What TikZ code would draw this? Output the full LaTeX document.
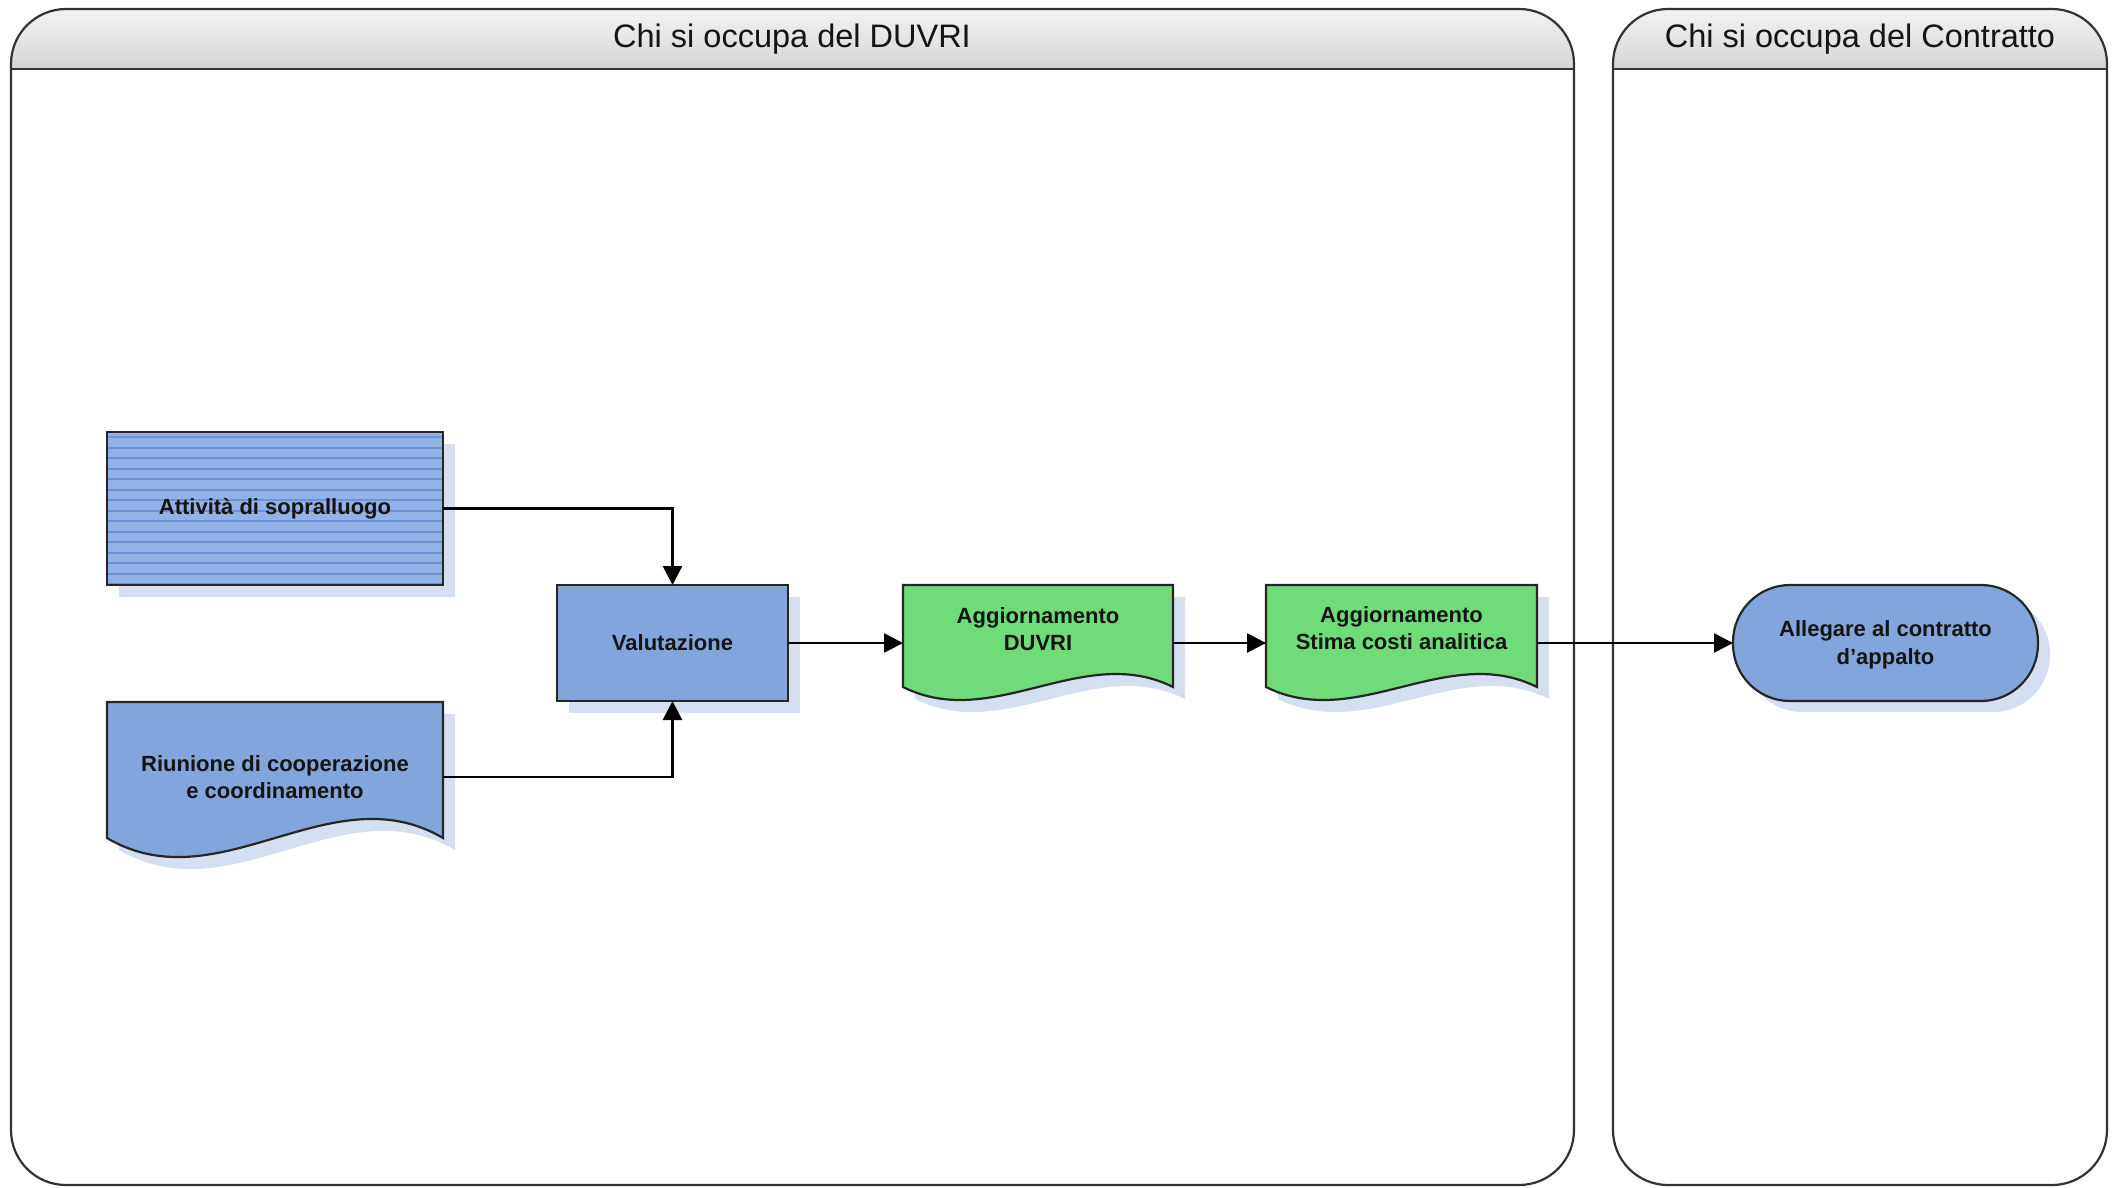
\documentclass[tikz,border=0pt]{standalone}
\usepackage{fontspec}
\setmainfont{Liberation Sans}
\usetikzlibrary{arrows.meta,calc}

\definecolor{laneline}{HTML}{333333}
\definecolor{headtop}{HTML}{F3F3F3}
\definecolor{headbot}{HTML}{D5D5D5}
\definecolor{procblue}{HTML}{82A6DC}
\definecolor{stripeblue}{HTML}{6C93D4}
\definecolor{stripebg}{HTML}{93B2E5}
\definecolor{docgreen}{HTML}{70DB79}
\definecolor{shadowblue}{HTML}{D4DFF1}
\definecolor{inktext}{HTML}{141414}

% document shape: #1 x, #2 y (top left), #3 width, #4 side height, #5 wave control offset
\newcommand\docoutline[5]{(#1,#2) -- (#1+#3,#2) -- (#1+#3,#2+#4)
  .. controls (#1+2*#3/3,#2+#4-#5) and (#1+#3/3,#2+#4+#5) .. (#1,#2+#4) -- cycle}

\begin{document}
\begin{tikzpicture}[x=1pt,y=-1pt,
  lane/.style={draw=laneline, line width=2.2pt, rounded corners=55pt},
  lanetitle/.style={text=inktext, font=\fontsize{32.5}{38}\selectfont, inner sep=0pt},
  shapeline/.style={draw=black!85, line width=2.2pt, line join=miter},
  shadowfill/.style={fill=shadowblue},
  boxlabel/.style={text=inktext, align=center, inner sep=0pt,
    font=\fontsize{22}{27.5}\selectfont\bfseries},
  anchorbox/.style={draw=none, fill=none, inner sep=0pt, outer sep=0pt},
  procbox/.style={shapeline, fill=procblue, inner sep=0pt, outer sep=0pt, boxlabel},
  flow/.style={draw=black, line width=2.6pt, -{Triangle[length=19pt,width=19pt]}},
]
\useasboundingbox (0,0) rectangle (2118,1187);

% ---------- swimlanes ----------
\begin{scope}
  \clip[rounded corners=55pt] (11,9) rectangle (1574,1185);
  \shade[top color=headtop, bottom color=headbot] (11,9) rectangle (1574,69);
\end{scope}
\begin{scope}
  \clip[rounded corners=55pt] (1613,9) rectangle (2107,1185);
  \shade[top color=headtop, bottom color=headbot] (1613,9) rectangle (2107,69);
\end{scope}
\draw[lane] (11,9) rectangle (1574,1185);
\draw[lane] (1613,9) rectangle (2107,1185);
\draw[draw=laneline, line width=2.2pt] (11,69) -- (1574,69);
\draw[draw=laneline, line width=2.2pt] (1613,69) -- (2107,69);
\node[lanetitle] (lane1title) at (792,39) {Chi si occupa del DUVRI};
\node[lanetitle] (lane2title) at (1860,39) {Chi si occupa del Contratto};

% ---------- Attivita di sopralluogo (striped process) ----------
\fill[shadowfill] (119,444) rectangle (455,597);
\fill[stripebg] (107,432) rectangle (443,585);
\foreach \i in {0,...,14}
  \draw[stripeblue, line width=2pt] (108,{437+10.5*\i}) -- (442,{437+10.5*\i});
\node[procbox, fill=none, minimum width=336pt, minimum height=153pt]
  (att) at (275,508.5) {Attività di sopralluogo};

% ---------- Riunione (document) ----------
\fill[shadowfill] [shift={(12,12)}] \docoutline{107}{702}{336}{136}{66};
\path[shapeline, fill=procblue] \docoutline{107}{702}{336}{136}{66};
\node[anchorbox, minimum width=336pt, minimum height=150pt] (riu) at (275,777) {};
\node[boxlabel] (riutext) at (275,777) {Riunione di cooperazione\\e coordinamento};

% ---------- Valutazione ----------
\fill[shadowfill] (569,597) rectangle (800,713);
\node[procbox, minimum width=231pt, minimum height=116pt] (val) at (672.5,643) {Valutazione};

% ---------- Aggiornamento DUVRI (document) ----------
\fill[shadowfill] [shift={(12,12)}] \docoutline{903}{585}{270}{102}{45};
\path[shapeline, fill=docgreen] \docoutline{903}{585}{270}{102}{45};
\node[anchorbox, minimum width=270pt, minimum height=116pt] (duvri) at (1038,643) {};
\node[boxlabel] (duvritext) at (1038,629) {Aggiornamento\\DUVRI};

% ---------- Aggiornamento stima costi (document) ----------
\fill[shadowfill] [shift={(12,12)}] \docoutline{1266}{585}{271}{102}{45};
\path[shapeline, fill=docgreen] \docoutline{1266}{585}{271}{102}{45};
\node[anchorbox, minimum width=271pt, minimum height=116pt] (stima) at (1401.5,643) {};
\node[boxlabel] (stimatext) at (1401.5,628) {Aggiornamento\\Stima costi analitica};

% ---------- Allegare al contratto (terminator) ----------
\fill[shadowfill, rounded corners=57pt] (1745,597) rectangle (2050,712);
\path[shapeline, fill=procblue, rounded corners=57pt] (1733,585) rectangle (2038,701);
\node[anchorbox, minimum width=305pt, minimum height=116pt] (alleg) at (1885.5,643) {};
\node[boxlabel] (allegtext) at (1885.5,645) {Allegare al contratto\\d’appalto};

% ---------- connectors ----------
\draw[flow] (att.east) -| (val.north);
\draw[flow] (riu.east) -| (val.south);
\draw[flow] (val.east) -- (duvri.west);
\draw[flow] (duvri.east) -- (stima.west);
\draw[flow] (stima.east) -- (alleg.west);
\end{tikzpicture}
\end{document}
